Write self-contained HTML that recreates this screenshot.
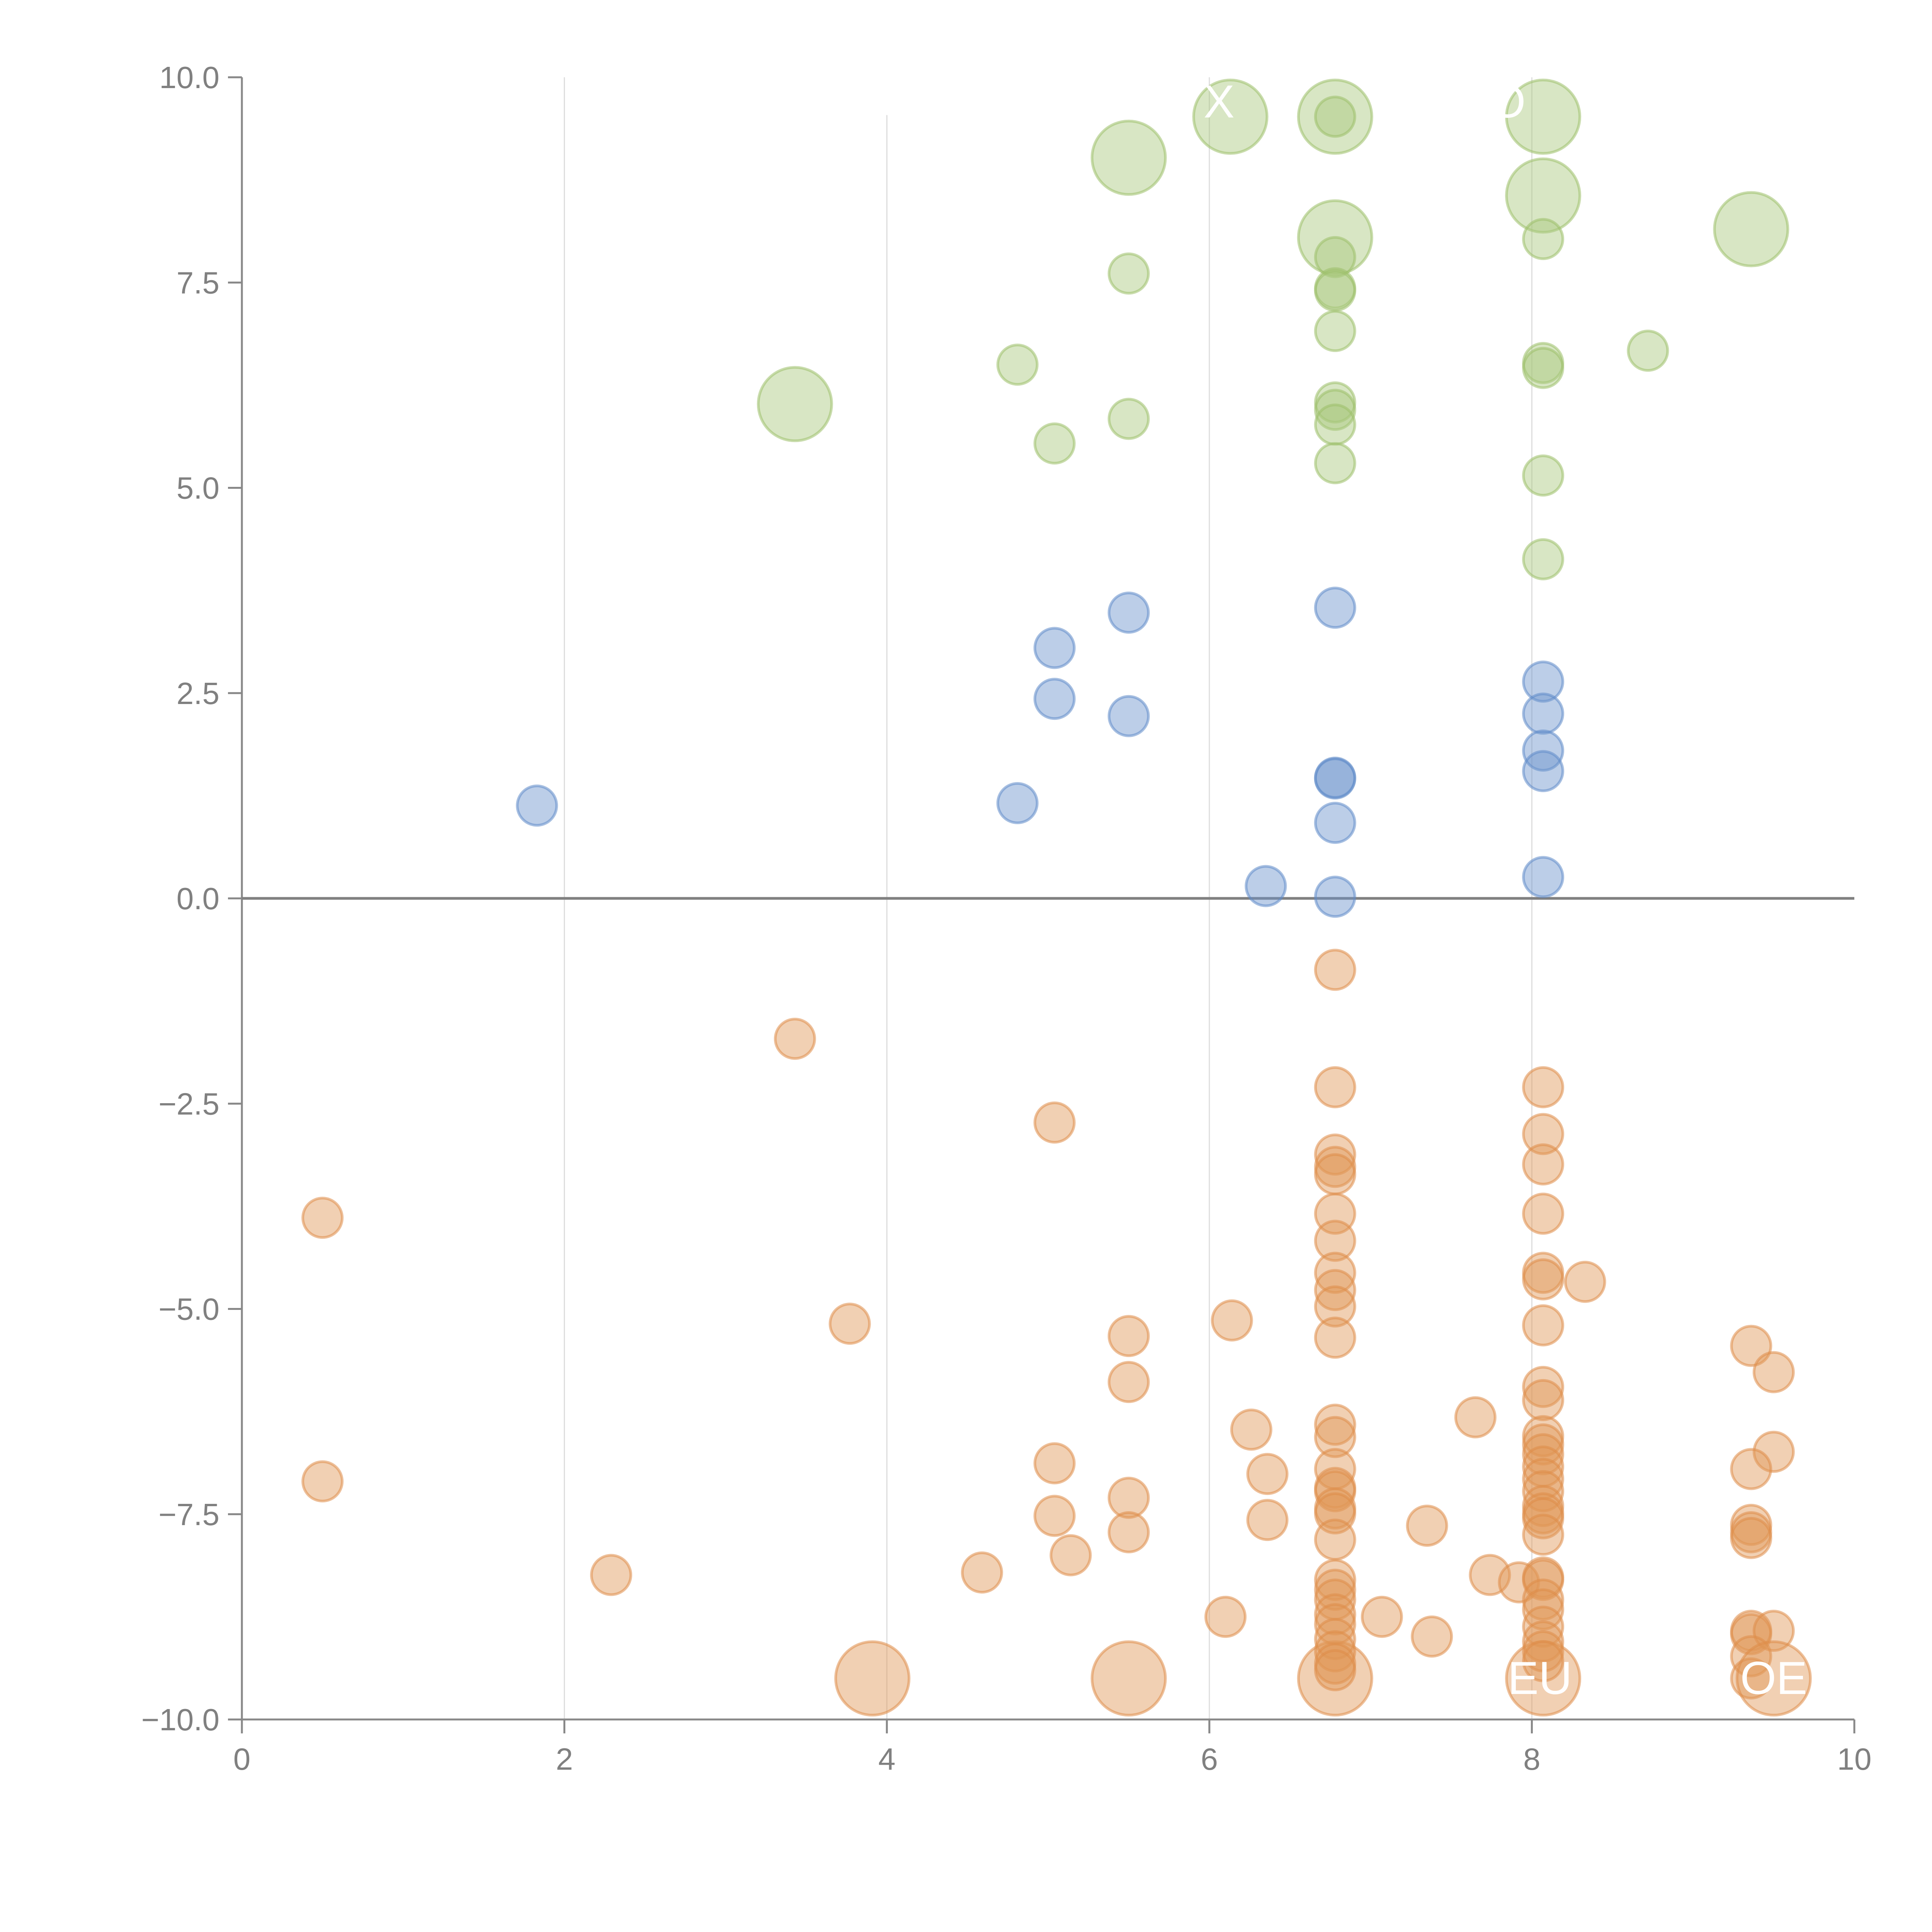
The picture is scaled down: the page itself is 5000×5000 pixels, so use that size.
<!DOCTYPE html>
<html><head><meta charset="utf-8"><style>
html,body{margin:0;padding:0;background:#fff;}
svg{display:block;}
text{font-family:"Liberation Sans",sans-serif;}
</style></head><body>
<svg id="chart" width="5000" height="5000" viewBox="0 0 5000 5000" xmlns="http://www.w3.org/2000/svg">
<g id="grid"></g>
<g id="axes"></g>
<g id="marks"></g>
<g id="labels"></g>
</svg>
<script>
const xTicks=[0,2,4,6,8,10];
const xTickLabels=["0","2","4","6","8","10"];
const yTicks=[10,7.5,5,2.5,0,-2.5,-5,-7.5,-10];
const yTickLabels=["10.0","7.5","5.0","2.5","0.0","\u22122.5","\u22125.0","\u22127.5","\u221210.0"];

const greenX=[5.50,6.13,6.78,8.07,8.07,6.78,9.36,3.43,6.78,5.50,6.78,6.78,6.78,6.78,6.78,6.78,6.78,6.78,4.81,5.04,5.50,8.07,8.07,8.07,8.07,8.07,8.72];
const greenY=[9.02,9.52,9.52,9.52,8.56,8.05,8.15,6.02,9.52,7.61,7.81,7.43,7.40,6.91,6.04,5.95,5.77,5.30,6.50,5.54,5.84,8.03,6.52,6.46,5.15,4.13,6.67];
const greenBig=[1,1,1,1,1,1,1,1,0,0,0,0,0,0,0,0,0,0,0,0,0,0,0,0,0,0,0];

const blueX=[1.83,4.81,5.04,5.04,5.50,5.50,6.35,6.78,6.78,6.78,6.78,6.78,8.07,8.07,8.07,8.07,8.07];
const blueY=[1.13,1.16,3.05,2.43,3.48,2.22,0.15,3.54,1.47,1.46,0.92,0.02,2.64,2.25,1.80,1.55,0.26];

const orangeX=[0.50,0.50,2.29,3.43,3.77,3.91,4.59,5.04,5.04,5.04,5.14,5.50,5.50,5.50,5.50,5.50,6.14,6.10,6.26,6.36,6.36,6.78,
6.78,6.78,6.78,6.78,6.78,6.78,6.78,6.78,6.78,6.78,6.78,6.78,6.78,6.78,6.78,6.78,6.78,6.78,6.78,6.78,6.78,6.78,6.78,6.78,6.78,6.78,6.78,6.78,
7.07,7.35,7.38,7.65,7.74,7.92,8.07,
8.07,8.07,8.07,8.07,8.07,8.07,8.07,8.07,8.07,8.07,8.07,8.07,8.07,8.07,8.07,8.07,8.07,8.07,8.07,8.07,8.07,8.07,8.07,8.07,8.07,8.07,8.07,
8.33,9.36,9.50,9.50,9.36,9.36,9.36,9.36,9.36,9.36,9.50,9.36,9.36,9.50];
const orangeY=[-3.89,-7.10,-8.24,-1.71,-5.18,-9.50,-8.21,-2.73,-6.88,-7.52,-8.00,-5.33,-5.89,-7.30,-7.72,-9.50,-5.14,-8.75,-6.47,-7.01,-7.57,-9.50,
-0.87,-2.30,-3.12,-3.27,-3.36,-3.84,-4.17,-4.56,-4.77,-4.97,-5.35,-6.41,-6.56,-6.95,-7.18,-7.22,-7.43,-7.49,-7.81,-8.30,-8.42,-8.54,-8.72,-8.84,-9.02,-9.17,-9.32,-9.40,
-8.75,-7.64,-8.99,-6.32,-8.24,-8.33,-9.50,
-2.30,-2.87,-3.24,-3.84,-4.56,-4.64,-5.20,-5.95,-6.11,-6.55,-6.65,-6.77,-6.92,-7.07,-7.22,-7.40,-7.49,-7.55,-7.75,-8.27,-8.30,-8.54,-8.66,-8.87,-9.05,-9.17,-9.29,
-4.67,-5.45,-5.77,-6.74,-6.95,-7.63,-7.72,-7.79,-8.92,-8.96,-8.92,-9.23,-9.50,-9.50];
const orangeBig=orangeX.map(()=>0);
[5,15,21,56].forEach(i=>orangeBig[i]=1); orangeBig[orangeX.length-1]=1;

const X0=626,X1=4799,Y0=4450,Y1=200;
function sx(v){return X0+(v-0)/(10-0)*(X1-X0);}
function sy(v){return Y0-(v+10)/20*(Y0-Y1);}
const NS="http://www.w3.org/2000/svg";
function mk(tag,attrs,parent){const e=document.createElementNS(NS,tag);for(const k in attrs)e.setAttribute(k,attrs[k]);parent.appendChild(e);return e;}
const grid=document.getElementById('grid'),axes=document.getElementById('axes'),marks=document.getElementById('marks'),labels=document.getElementById('labels');

[2,4,6,8].forEach(v=>{
  const top = v===4 ? sy(9.54) : sy(10);
  const g=mk('line',{x1:sx(v),x2:sx(v),y1:top,y2:sy(-10),stroke:'#dddddd','stroke-width':3},grid);
  
  
});

let a=mk('line',{x1:X0,x2:X0,y1:sy(10),y2:sy(-10),stroke:'#888','stroke-width':5},axes);


a=mk('line',{x1:X0,x2:X1,y1:sy(-10),y2:sy(-10),stroke:'#888','stroke-width':5},axes);


a=mk('line',{x1:X0,x2:X1,y1:sy(0),y2:sy(0),stroke:'#808080','stroke-width':7},axes);



yTicks.forEach((v,i)=>{
  const t=mk('line',{x1:X0-36,x2:X0,y1:sy(v),y2:sy(v),stroke:'#888','stroke-width':5},axes);
  
  
  const l=mk('text',{x:X0-58,y:sy(v)+28,'text-anchor':'end','font-size':80,fill:'#808080'},axes);
  l.textContent=yTickLabels[i];
  
  
});
xTicks.forEach((v,i)=>{
  const t=mk('line',{x1:sx(v),x2:sx(v),y1:Y0,y2:Y0+36,stroke:'#888','stroke-width':5},axes);
  
  
  const l=mk('text',{x:sx(v),y:Y0+130,'text-anchor':'middle','font-size':80,fill:'#808080'},axes);
  l.textContent=xTickLabels[i];
  
  
});

function series(xs,ys,bigs,fill,stroke,name){
  xs.forEach((x,i)=>{
    const c=mk('circle',{cx:sx(x),cy:sy(ys[i]),r:bigs[i]?95:51,fill:fill,'fill-opacity':0.45,stroke:stroke,'stroke-opacity':0.55,'stroke-width':7},marks);
    
    
  });
}
series(greenX,greenY,greenBig,'#a9c77c','#9dbf6a','green-bubble');
series(blueX,blueY,blueX.map(()=>0),'#6a93cd','#5f8bc8','blue-bubble');
series(orangeX,orangeY,orangeBig,'#e19757','#de8c48','orange-bubble');

const lblText=["X","O","EU","OE"];
const lblX=[6.06,7.85,8.05,9.50];
const lblY=[9.70,9.70,-9.50,-9.50];
lblText.forEach((s,i)=>{
  const t=mk('text',{x:sx(lblX[i]),y:sy(lblY[i])+40,'text-anchor':'middle','font-size':120,fill:'#ffffff'},labels);
  t.textContent=s;
  
  
});
</script>
</body></html>
